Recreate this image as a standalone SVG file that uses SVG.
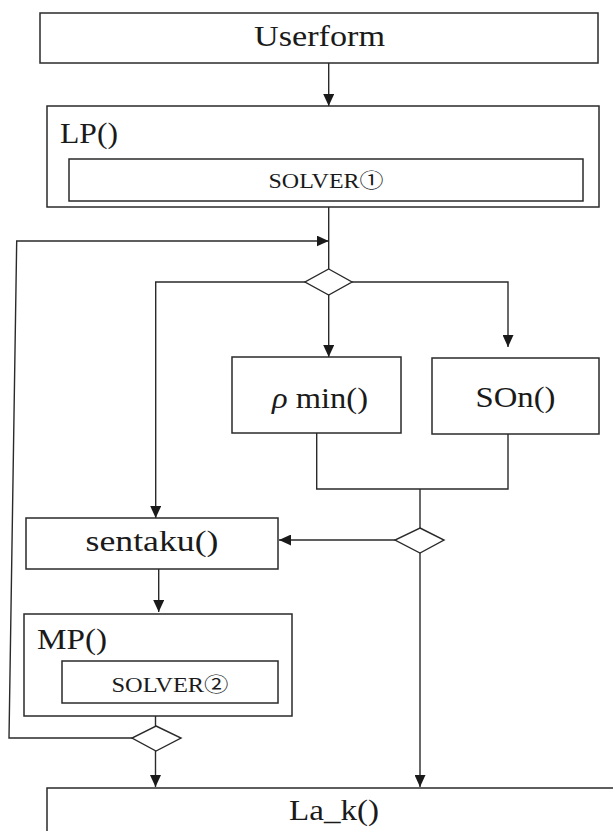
<svg xmlns="http://www.w3.org/2000/svg" width="613" height="831" viewBox="0 0 613 831">
<defs>
<style>
.box{fill:#fff;stroke:#2a2a2a;stroke-width:1.5}
.ln{fill:none;stroke:#2a2a2a;stroke-width:1.4}
.dia{fill:#fff;stroke:#2a2a2a;stroke-width:1.4}
.t{font-family:"Liberation Serif","Times New Roman",serif;font-size:30px;fill:#1a1a1a}
.s{font-family:"Liberation Serif","DejaVu Serif","Noto Sans CJK JP",serif;font-size:20px;fill:#1a1a1a}
</style>
<marker id="ah" markerWidth="12" markerHeight="11" refX="12" refY="5.5" orient="auto" markerUnits="userSpaceOnUse">
<path d="M0,0 L12,5.5 L0,11 Z" fill="#1a1a1a"/>
</marker>
</defs>
<rect width="613" height="831" fill="#fff"/>
<g id="connectors">
<line class="ln" x1="328.7" y1="63" x2="328.7" y2="106" marker-end="url(#ah)"/>
<line class="ln" x1="328.7" y1="201" x2="328.7" y2="269"/>
<polyline class="ln" points="132,738 9,738 16.7,241 328.7,241" marker-end="url(#ah)"/>
<polyline class="ln" points="305,282 155.7,282 155.7,518" marker-end="url(#ah)"/>
<polyline class="ln" points="352,282 508,282 508,347" marker-end="url(#ah)"/>
<line class="ln" x1="328.7" y1="295" x2="328.7" y2="357" marker-end="url(#ah)"/>
<polyline class="ln" points="316.7,433 316.7,489 508,489 508,434"/>
<line class="ln" x1="420" y1="489" x2="420" y2="528"/>
<line class="ln" x1="395" y1="540" x2="279" y2="540" marker-end="url(#ah)"/>
<line class="ln" x1="420" y1="553" x2="420" y2="787" marker-end="url(#ah)"/>
<line class="ln" x1="158.7" y1="569" x2="158.7" y2="612" marker-end="url(#ah)"/>
<line class="ln" x1="155.5" y1="716" x2="155.5" y2="726"/>
<line class="ln" x1="155.5" y1="751" x2="155.5" y2="787" marker-end="url(#ah)"/>
</g>
<g id="userform">
<rect class="box" x="40" y="13" width="558" height="50"/>
<text class="t" x="319.5" y="46" text-anchor="middle" textLength="131" lengthAdjust="spacingAndGlyphs">Userform</text>
</g>
<g id="lp">
<rect class="box" x="47" y="106" width="552" height="101"/>
<text class="t" x="60" y="143" textLength="58" lengthAdjust="spacingAndGlyphs">LP()</text>
</g>
<g id="solver1">
<rect class="box" x="69" y="159" width="514" height="42"/>
<text class="s" x="326" y="188" text-anchor="middle" textLength="115" lengthAdjust="spacingAndGlyphs">SOLVER①</text>
</g>
<g id="decision1">
<polygon class="dia" points="328.7,269 352,282 328.7,295 305,282"/>
</g>
<g id="rhomin">
<rect class="box" x="232" y="357" width="169" height="76"/>
<text class="t" x="272" y="408" textLength="96" lengthAdjust="spacingAndGlyphs"><tspan font-style="italic">ρ</tspan> min()</text>
</g>
<g id="son">
<rect class="box" x="432" y="358" width="167" height="76"/>
<text class="t" x="515.5" y="407" text-anchor="middle" textLength="80" lengthAdjust="spacingAndGlyphs">SOn()</text>
</g>
<g id="decision2">
<polygon class="dia" points="420,528 444,540 420,553 395,540"/>
</g>
<g id="sentaku">
<rect class="box" x="26" y="518" width="252" height="51"/>
<text class="t" x="152" y="551" text-anchor="middle" textLength="133" lengthAdjust="spacingAndGlyphs">sentaku()</text>
</g>
<g id="mp">
<rect class="box" x="24" y="614" width="268" height="102"/>
<text class="t" x="37" y="649" textLength="70" lengthAdjust="spacingAndGlyphs">MP()</text>
</g>
<g id="solver2">
<rect class="box" x="62" y="661" width="216" height="42"/>
<text class="s" x="170" y="692" text-anchor="middle" textLength="117" lengthAdjust="spacingAndGlyphs">SOLVER②</text>
</g>
<g id="decision3">
<polygon class="dia" points="156,726 181,738 156,751 132,738"/>
</g>
<g id="lak">
<rect class="box" x="47" y="788" width="600" height="60"/>
<text class="t" x="334" y="820" text-anchor="middle" textLength="90" lengthAdjust="spacingAndGlyphs">La_k()</text>
</g>
</svg>
